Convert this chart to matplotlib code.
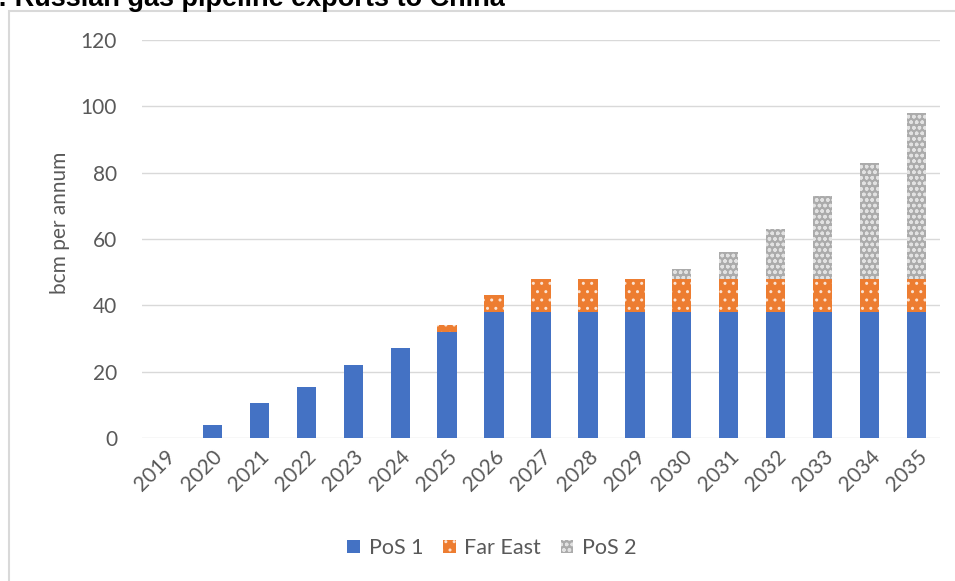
import matplotlib.pyplot as plt
import matplotlib.patches as mpatches
import numpy as np

years = [str(y) for y in range(2019, 2036)]
pos1 = [0, 4, 10.5, 15.5, 22, 27, 32, 38, 38, 38, 38, 38, 38, 38, 38, 38, 38]
far_east = [0, 0, 0, 0, 0, 0, 2, 5, 10, 10, 10, 10, 10, 10, 10, 10, 10]
pos2 = [0, 0, 0, 0, 0, 0, 0, 0, 0, 0, 0, 3, 8, 15, 25, 35, 50]

plt.rcParams['font.family'] = ['Lato', 'DejaVu Sans']
plt.rcParams['hatch.linewidth'] = 1.0

fig = plt.figure(figsize=(9.55, 5.81), dpi=100)
ax = fig.add_axes([142/955, 143/581, 798/955, 398/581])

x = np.arange(len(years))
w = 0.41
ax.bar(x, pos1, w, color='#4472C4', label='PoS 1', zorder=3)
ax.bar(x, far_east, w, bottom=pos1, color='#ED7D31', edgecolor='#FBE3D3',
       linewidth=0, hatch='..', label='Far East', zorder=3)
base2 = np.array(pos1) + np.array(far_east)
ax.bar(x, pos2, w, bottom=base2, color='#ABABAB', edgecolor='#E2E2E2',
       linewidth=0, hatch='ooo', label='PoS 2', zorder=3)

ax.set_xlim(-0.5, len(years) - 0.5)
ax.set_ylim(0, 120)
ax.set_yticks(range(0, 121, 20))
ax.set_xticks(x)
ax.set_xticklabels(years, rotation=45, ha='right', va='top', rotation_mode='anchor')
ax.tick_params(length=0, colors='#595959', labelsize=15)
ax.tick_params(axis='y', pad=18)
ax.tick_params(axis='x', pad=6)
ax.grid(axis='y', color='#D9D9D9', lw=1, zorder=0)
for s in ax.spines.values():
    s.set_visible(False)
ax.set_ylabel('bcm per annum', color='#595959', fontsize=15)
ax.yaxis.set_label_coords(-0.09, 0.54)

ax.legend(loc='center', bbox_to_anchor=(492 / 955, (581 - 548) / 581), bbox_transform=fig.transFigure,
          ncol=3, frameon=False, fontsize=15.5, labelcolor='#595959',
          handlelength=0.6, handleheight=0.6, handletextpad=0.4, columnspacing=0.9)

fig.patches.append(mpatches.Rectangle((8.5/955, -0.05), 1.0, 1 - 11/581 + 0.05,
                                      transform=fig.transFigure, fill=False,
                                      edgecolor='#D9D9D9', lw=1.5))
fig.text(-0.002, 1 - 6/581, ': Russian gas pipeline exports to China', fontsize=19.5,
         fontweight='bold', family='Liberation Sans', va='baseline', ha='left')

fig.savefig('out.png', dpi=100)
